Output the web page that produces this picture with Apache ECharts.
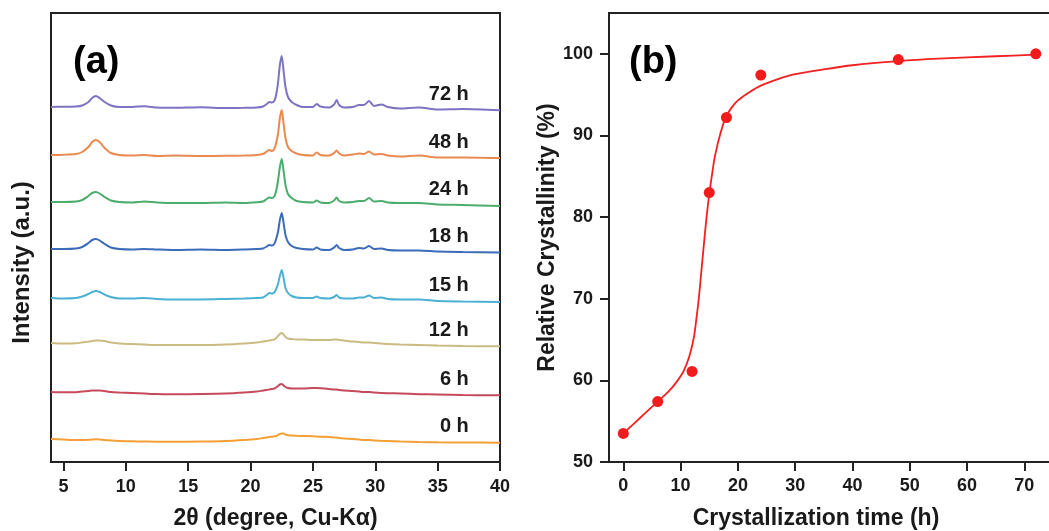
<!DOCTYPE html>
<html>
<head>
<meta charset="utf-8">
<script src="https://cdn.jsdelivr.net/npm/echarts@6/dist/echarts.min.js"></script>
<style>
  html, body { margin: 0; padding: 0; background: #fff; }
  #chart { width: 1049px; height: 531px; }
</style>
</head>
<body>
<div id="chart"></div>
<script>
// ---- (a) XRD patterns: shared 2θ grid, per-sample intensity (a.u.) above each trace's own baseline
const twoTheta = [4, 5, 6, 6.5, 7, 7.3, 7.6, 7.9, 8.3, 8.8, 9.5, 10.5, 11.5, 12.5, 14, 16, 18, 19.5, 20.5, 21,
  21.3, 21.5, 21.7, 21.9, 22.05, 22.2, 22.35, 22.5, 22.65, 22.8, 23.0, 23.3, 23.7, 24.2, 25, 25.3, 25.6, 26.3, 26.7, 26.9,
  27.1, 27.5, 28.2, 28.7, 29.1, 29.5, 29.9, 30.5, 31, 32, 33.5, 35, 37, 40];

const sampleNames = ['72 h', '48 h', '24 h', '18 h', '15 h', '12 h', '6 h', '0 h'];
const stackOffset = [355, 307, 260, 213, 164, 119, 70, 23];

const xrd72 = [0, 0.3, 0.5, 1.5, 5, 9, 11, 9, 5, 1.5, 0, 0, 0.8, -0.5, -0.8, -0.3, -1, -0.8, -0.5, 0.5,
  3, 5, 4.5, 6, 12, 24, 42, 51, 36, 20, 10, 5, 2, 0, 0, 3, 0.5, -0.5, 2.5, 7,
  2, -0.5, 0, 2, 2, 6, 1, 2.5, 0, -1.5, -0.5, -2.5, -2, -3.3];
const xrd48 = [0, 0.3, 1, 3, 8, 13, 15, 13, 7, 2, 0, -0.5, 0, -1, -0.5, -1, -0.8, -0.5, 0, 1,
  3.5, 5, 4, 6, 12, 21, 37, 45, 31, 17, 8, 4, 1.5, 0, -0.5, 2.5, 0, -0.5, 2, 4.5,
  1.5, -0.5, 0.5, 1.5, 1, 3.5, 0.5, 1, -0.5, -1.5, -0.5, -2.5, -2.5, -3];
const xrd24 = [0, 0, 0.5, 2, 6, 9, 10, 8.5, 5, 1.5, 0, -0.5, 0.5, -0.5, -1, -1, -0.5, -1, -0.3, 0.5,
  3, 4.5, 4, 5.5, 11, 21, 35, 43, 31, 17, 8, 4, 1, 0, -0.5, 1.5, -0.5, -1, 1.5, 4.5,
  1, -0.5, 0, 1, 1, 4, 0.5, 1, -0.5, -1, -1, -2.5, -3, -4];
const xrd18 = [0, 0, 0.5, 2, 6, 9, 10, 8.5, 5, 1.5, 0, -0.5, 0, -0.5, -1, -0.5, -1, -0.5, 0, 0.5,
  2.5, 4, 3.5, 5, 10, 17, 29, 36, 26, 14, 7, 3, 1, 0, -0.5, 1.5, -0.5, -1, 1.5, 4,
  1, -1, -0.5, 1, 0.5, 3, 0, 0.5, -1, -1.5, -1.5, -2.5, -3, -3.5];
const xrd15 = [0, -0.5, 0, 1.5, 4, 6, 7, 6, 3.5, 1, -0.5, -0.5, 0, -1, -1.5, -1.5, -1, -0.5, 0, 0.5,
  3, 5, 4.5, 5.5, 9, 14, 22, 28, 20, 10, 5, 2, 0.5, 0, 0, 1.5, 0, -0.5, 1, 3,
  0.5, -0.5, -0.5, 0.5, 0.5, 2.5, 0, 0.5, -1, -1.5, -1.5, -3, -3.5, -4];
const xrd12 = [0, -0.5, -0.3, 0.5, 1.5, 2, 2.5, 2.5, 2, 0.5, -0.5, -1, -1.5, -2, -2, -2, -1.5, -0.5, 0.5, 1.5,
  2, 2.5, 3, 3.5, 5, 7, 9, 10, 8.5, 6, 4.5, 4, 3.5, 3.5, 3, 3, 3, 3, 3.5, 3.5,
  3, 2.5, 1.5, 1, 0.5, 0.5, 0, -0.5, -1, -1.5, -2, -2.5, -3, -3.3];
const xrd6 = [0, -0.3, -0.3, 0.5, 1, 1.5, 1.5, 1.5, 1, 0, -0.5, -1, -1.5, -2, -2.3, -2, -1.5, -0.5, 0.5, 1.5,
  2, 2.5, 3, 3.5, 4.5, 6, 7.5, 8, 6.5, 5, 4, 3.5, 3.5, 3.5, 4, 4, 3.8, 3, 2.5, 2.5,
  2, 1.5, 1, 0.5, 0, 0, -0.5, -1, -1.2, -1.5, -2.2, -2.5, -3, -3.3];
const xrd0 = [0, -0.5, -1, -1, -0.8, -0.5, -0.3, -0.5, -1, -1.5, -2, -2.3, -2.5, -2.7, -2.7, -2.5, -2, -1, 0, 1,
  1.5, 2, 2.3, 2.7, 3, 4, 5, 5.5, 5.5, 4.5, 3.8, 3.5, 3.2, 3, 2.8, 2.5, 2.3, 2, 1.5, 1.5,
  1, 0.5, 0, -0.5, -1, -1, -1.5, -1.8, -2, -2.5, -3, -3.3, -3.5, -3.7];

const xrdSeries = [xrd72, xrd48, xrd24, xrd18, xrd15, xrd12, xrd6, xrd0];
const xrdColors = ['#7c73c3', '#ea8950', '#4cad6d', '#3c6bb9', '#4ab1d3', '#c9bb82', '#c64a5c', '#f4a036'];
const twoThetaTicks = [5, 10, 15, 20, 25, 30, 35, 40];

// ---- (b) relative crystallinity vs. crystallization time
const timeHours = [0, 6, 12, 15, 18, 24, 48, 72];
const crystallinity = [53.5, 57.4, 61.1, 83.0, 92.2, 97.4, 99.3, 100.0];
// fitted sigmoid curve, sampled along its length
const fitTime = [0, 2, 4, 6, 8, 9.5, 10.5, 11.5, 12.3, 12.8, 13.2, 13.6, 14, 14.5, 15, 15.5, 16, 17, 18, 19,
  20, 22, 24, 27, 30, 35, 40, 48, 55, 65, 72];
const fitValue = [53.5, 54.8, 56.1, 57.4, 58.7, 60.0, 61.1, 62.9, 65.2, 67.8, 70.2, 73.2, 76.2, 79.8, 82.8, 85.3, 87.5, 90.4, 92.4, 93.5,
  94.3, 95.3, 96.1, 96.9, 97.5, 98.1, 98.6, 99.1, 99.4, 99.7, 99.9];
const timeTicks = [0, 10, 20, 30, 40, 50, 60, 70];
const crystTicks = [50, 60, 70, 80, 90, 100];

const FONT = '"Liberation Sans", Arial, Helvetica, sans-serif';
const INK = '#1a1a1a';
const AXIS = '#222';

const chart = echarts.init(document.getElementById('chart'), null, { renderer: 'canvas' });

const tickStyle = { show: true, length: 9, inside: false, lineStyle: { color: AXIS, width: 2 } };
const lineAxis = { show: true, onZero: false, lineStyle: { color: AXIS, width: 2 } };
const tickText = { color: INK, fontFamily: FONT, fontWeight: 'bold', fontSize: 18 };
const titleText = { color: INK, fontFamily: FONT, fontWeight: 'bold', fontSize: 23 };

const series = [];
xrdSeries.forEach((vals, i) => {
  series.push({
    type: 'line',
    name: sampleNames[i],
    xAxisIndex: 0, yAxisIndex: 0,
    data: twoTheta.map((t, k) => [t, stackOffset[i] + vals[k]]),
    showSymbol: false,
    smooth: 0.25,
    lineStyle: { color: xrdColors[i], width: 2 },
    itemStyle: { color: xrdColors[i] },
    silent: true,
    markPoint: {
      symbol: 'circle', symbolSize: 0, silent: true,
      label: {
        show: true, position: 'left', distance: 0,
        formatter: sampleNames[i],
        color: INK, fontFamily: FONT, fontWeight: 'bold', fontSize: 20
      },
      data: [{ coord: [37.5, stackOffset[i] + 13] }]
    }
  });
});

series.push({
  type: 'line',
  xAxisIndex: 1, yAxisIndex: 1,
  data: fitTime.map((t, k) => [t, fitValue[k]]),
  showSymbol: false,
  smooth: 0.3,
  lineStyle: { color: '#f22020', width: 1.8 },
  silent: true
});
series.push({
  type: 'scatter',
  xAxisIndex: 1, yAxisIndex: 1,
  data: timeHours.map((t, k) => [t, crystallinity[k]]),
  symbolSize: 11,
  itemStyle: { color: '#f21b1b', opacity: 1 },
  clip: false,
  silent: true
});

chart.setOption({
  animation: false,
  backgroundColor: '#fff',
  grid: [
    { left: 51, top: 13, width: 449, height: 449, show: true, borderColor: AXIS, borderWidth: 2, outerBoundsMode: 'none' },
    { left: 609, top: 13, width: 444, height: 449, show: true, borderColor: AXIS, borderWidth: 2, outerBoundsMode: 'none' }
  ],
  xAxis: [
    {
      gridIndex: 0, type: 'value', min: 4, max: 40,
      axisLine: lineAxis, axisTick: Object.assign({ customValues: twoThetaTicks }, tickStyle),
      axisLabel: Object.assign({ customValues: twoThetaTicks, margin: 16 }, tickText),
      splitLine: { show: false },
      name: '2θ (degree, Cu-Kα)', nameLocation: 'middle', nameGap: 45, nameTextStyle: titleText
    },
    {
      gridIndex: 1, type: 'value', min: -2.5, max: 75,
      axisLine: lineAxis, axisTick: Object.assign({ customValues: timeTicks }, tickStyle),
      axisLabel: Object.assign({ customValues: timeTicks, margin: 15 }, tickText),
      splitLine: { show: false },
      name: 'Crystallization time (h)', nameLocation: 'middle', nameGap: 45,
      nameTextStyle: Object.assign({ padding: [0, 30, 0, 0] }, titleText)
    }
  ],
  yAxis: [
    {
      gridIndex: 0, type: 'value', min: 0, max: 449,
      axisLine: lineAxis, axisTick: { show: false }, axisLabel: { show: false },
      splitLine: { show: false },
      name: 'Intensity (a.u.)', nameLocation: 'middle', nameGap: 17,
      nameTextStyle: Object.assign({ padding: [0, 50, 0, 0] }, titleText, { fontSize: 24 })
    },
    {
      gridIndex: 1, type: 'value', min: 50, max: 105,
      axisLine: lineAxis, axisTick: Object.assign({ customValues: crystTicks }, tickStyle),
      axisLabel: Object.assign({ customValues: crystTicks, margin: 16 }, tickText),
      splitLine: { show: false },
      name: 'Relative Crystallinity (%)', nameLocation: 'middle', nameGap: 47, nameTextStyle: titleText
    }
  ],
  graphic: [
    { type: 'text', left: 73, top: 44, style: { text: '(a)', fill: '#000', font: 'bold 38px ' + FONT } },
    { type: 'text', left: 629, top: 44, style: { text: '(b)', fill: '#000', font: 'bold 38px ' + FONT } }
  ],
  series: series
});
</script>
</body>
</html>
